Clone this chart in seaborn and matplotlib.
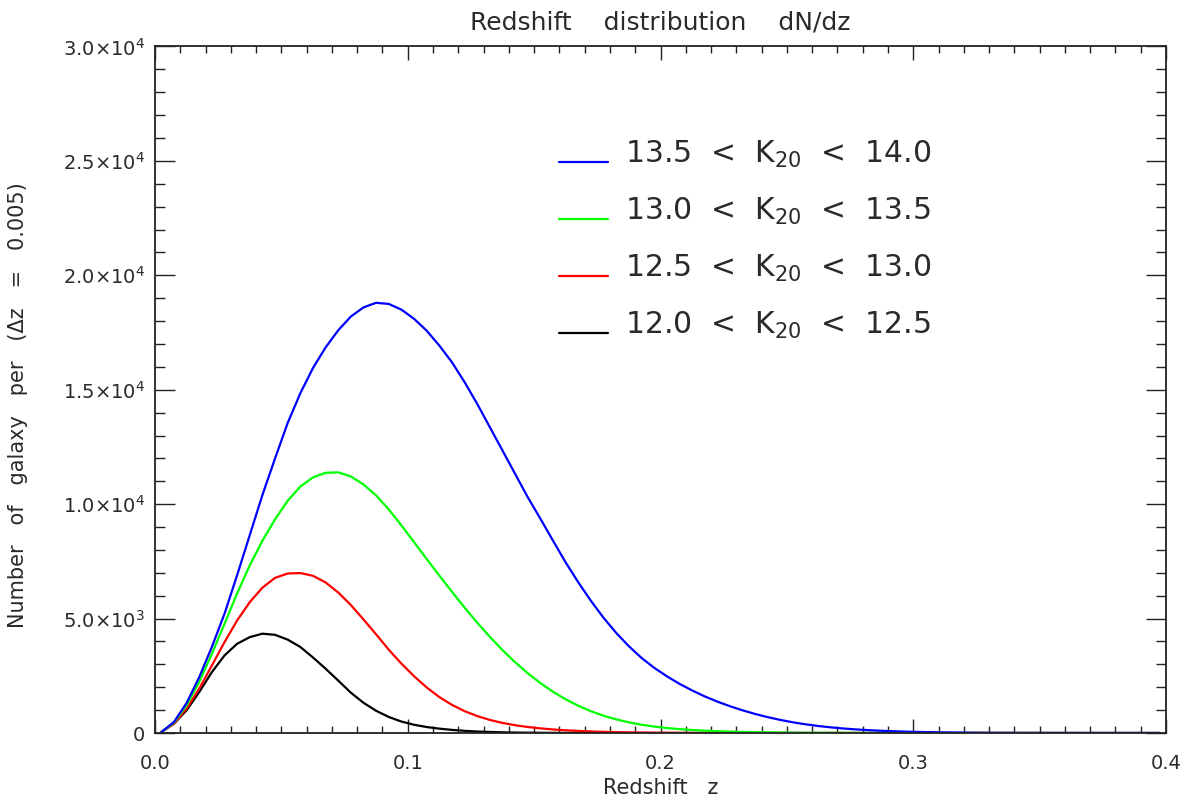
import numpy as np
import pandas as pd
import matplotlib
matplotlib.use("Agg")
import matplotlib.pyplot as plt
import seaborn as sns
from matplotlib.ticker import MultipleLocator, FixedLocator, FixedFormatter
from matplotlib.legend_handler import HandlerLine2D

# ---------------- data ----------------
z = [0.0025, 0.0075, 0.0125, 0.0175, 0.0225, 0.0275, 0.0325, 0.0375, 0.0425, 0.0475,
     0.0525, 0.0575, 0.0625, 0.0675, 0.0725, 0.0775, 0.0825, 0.0875, 0.0925, 0.0975,
     0.1025, 0.1075, 0.1125, 0.1175, 0.1225, 0.1275, 0.1325, 0.1375, 0.1425, 0.1475,
     0.1525, 0.1575, 0.1625, 0.1675, 0.1725, 0.1775, 0.1825, 0.1875, 0.1925, 0.1975,
     0.2025, 0.2075, 0.2125, 0.2175, 0.2225, 0.2275, 0.2325, 0.2375, 0.2425, 0.2475,
     0.2525, 0.2575, 0.2625, 0.2675, 0.2725, 0.2775, 0.2825, 0.2875, 0.2925, 0.2975,
     0.3025, 0.3075, 0.3125, 0.3175, 0.3225, 0.3275, 0.3325, 0.3375, 0.3425, 0.3475,
     0.3525, 0.3575, 0.3625, 0.3675, 0.3725, 0.3775, 0.3825, 0.3875, 0.3925, 0.3975]

n_135_140 = [40, 480, 1310, 2440, 3760, 5210, 6900, 8650, 10400, 12000,
             13550, 14850, 15950, 16850, 17600, 18200, 18600, 18800, 18750, 18500,
             18100, 17580, 16930, 16200, 15330, 14380, 13360, 12340, 11320, 10300,
             9360, 8400, 7450, 6580, 5770, 5030, 4370, 3790, 3280, 2850,
             2480, 2150, 1860, 1600, 1370, 1170, 990, 830, 690, 570,
             465, 378, 305, 245, 196, 156, 123, 96, 75, 58,
             45, 34, 26, 19, 14, 10, 7, 5, 4, 3,
             2, 1, 1, 0, 0, 0, 0, 0, 0, 0]

n_130_135 = [40, 450, 1210, 2230, 3460, 4770, 6100, 7330, 8400, 9340,
             10150, 10770, 11170, 11370, 11390, 11210, 10860, 10380, 9770, 9070,
             8340, 7600, 6880, 6170, 5480, 4820, 4200, 3620, 3090, 2610,
             2180, 1800, 1470, 1190, 950, 755, 595, 465, 362, 281,
             218, 170, 132, 102, 79, 61, 47, 36, 28, 21,
             16, 12, 9, 7, 5, 4, 3, 2, 1, 1,
             0, 0, 0, 0, 0, 0, 0, 0, 0, 0,
             0, 0, 0, 0, 0, 0, 0, 0, 0, 0]

n_125_130 = [40, 410, 1060, 1940, 2950, 3970, 4920, 5720, 6350, 6780,
             6970, 6990, 6870, 6580, 6140, 5590, 4960, 4310, 3640, 3030,
             2480, 1990, 1570, 1230, 955, 740, 570, 440, 340, 262,
             202, 155, 118, 90, 68, 51, 38, 28, 20, 14,
             10, 7, 5, 3, 2, 1, 1, 0, 0, 0,
             0, 0, 0, 0, 0, 0, 0, 0, 0, 0,
             0, 0, 0, 0, 0, 0, 0, 0, 0, 0,
             0, 0, 0, 0, 0, 0, 0, 0, 0, 0]

n_120_125 = [40, 410, 990, 1790, 2660, 3390, 3900, 4190, 4340, 4290,
             4080, 3760, 3300, 2810, 2290, 1760, 1320, 970, 700, 500,
             360, 260, 190, 135, 95, 65, 45, 30, 20, 14,
             9, 6, 4, 3, 2, 1, 0, 0, 0, 0,
             0, 0, 0, 0, 0, 0, 0, 0, 0, 0,
             0, 0, 0, 0, 0, 0, 0, 0, 0, 0,
             0, 0, 0, 0, 0, 0, 0, 0, 0, 0,
             0, 0, 0, 0, 0, 0, 0, 0, 0, 0]

bins = ["12.0-12.5", "12.5-13.0", "13.0-13.5", "13.5-14.0"]
bin_labels = [r"12.0  <  K$\mathregular{_{20}}$  <  12.5",
              r"12.5  <  K$\mathregular{_{20}}$  <  13.0",
              r"13.0  <  K$\mathregular{_{20}}$  <  13.5",
              r"13.5  <  K$\mathregular{_{20}}$  <  14.0"]
bin_colors = ["#000000", "#ff0000", "#00ff00", "#0000ff"]

xtick_values = [0.0, 0.1, 0.2, 0.3, 0.4]
xtick_labels = ["0.0", "0.1", "0.2", "0.3", "0.4"]
ytick_values = [0, 5000, 10000, 15000, 20000, 25000, 30000]
ytick_labels = ["0",
                r"$\mathregular{5.0{\times}10^{3}}$",
                r"$\mathregular{1.0{\times}10^{4}}$",
                r"$\mathregular{1.5{\times}10^{4}}$",
                r"$\mathregular{2.0{\times}10^{4}}$",
                r"$\mathregular{2.5{\times}10^{4}}$",
                r"$\mathregular{3.0{\times}10^{4}}$"]

title = "Redshift    distribution    dN/dz"
xlabel = "Redshift   z"
ylabel = "Number   of   galaxy   per   (Δz   =   0.005)"

# ---------------- build frame ----------------
series = [n_120_125, n_125_130, n_130_135, n_135_140]
df = pd.concat([pd.DataFrame({"z": z, "N": s, "bin": b}) for s, b in zip(series, bins)],
               ignore_index=True)

# ---------------- style ----------------
sns.set_theme(style="white")
plt.rcParams["font.family"] = ["DejaVu Sans"]
plt.rcParams["mathtext.fontset"] = "dejavusans"
TXT = "#2a2a2a"
plt.rcParams["text.color"] = TXT
plt.rcParams["axes.labelcolor"] = TXT
plt.rcParams["xtick.color"] = TXT
plt.rcParams["ytick.color"] = TXT

fig = plt.figure(figsize=(11.97, 8.05), dpi=100)
fig.patch.set_facecolor("white")
ax = fig.add_axes([155 / 1197, 72 / 805, 1011 / 1197, 686.5 / 805])

sns.lineplot(data=df, x="z", y="N", hue="bin", hue_order=bins,
             palette=dict(zip(bins, bin_colors)), linewidth=1.6,
             ax=ax, legend=False, estimator=None)

ax.set_xlim(0, 0.4)
ax.set_ylim(0, 30000)

ax.xaxis.set_major_locator(FixedLocator(xtick_values))
ax.xaxis.set_major_formatter(FixedFormatter(xtick_labels))
ax.xaxis.set_minor_locator(MultipleLocator(0.01))
ax.yaxis.set_major_locator(FixedLocator(ytick_values))
ax.yaxis.set_major_formatter(FixedFormatter(ytick_labels))
ax.yaxis.set_minor_locator(MultipleLocator(1000))

ax.tick_params(which="both", direction="in", top=True, right=True,
               bottom=True, left=True, color="#222222", width=1.0)
ax.tick_params(axis="x", which="major", length=10, pad=15, labelsize=14)
ax.tick_params(axis="x", which="minor", length=5)
ax.tick_params(axis="y", which="major", length=14.4, pad=7, labelsize=14)
ax.tick_params(axis="y", which="minor", length=7.2)

for sp in ax.spines.values():
    sp.set_visible(True)
    sp.set_color("#222222")
    sp.set_linewidth(1.3)

ax.set_title(title, fontsize=18, pad=12)
ax.set_xlabel(xlabel, fontsize=15, labelpad=4)
ax.set_ylabel(ylabel, fontsize=15)
ax.yaxis.set_label_coords(-0.1256, 0.477)


class BaselineLineHandler(HandlerLine2D):
    """Put the legend sample line at the text baseline, as in the original."""
    def create_artists(self, legend, orig_handle, xdescent, ydescent,
                       width, height, fontsize, trans):
        return super().create_artists(legend, orig_handle, xdescent,
                                      ydescent + 0.6 * fontsize, width, height,
                                      fontsize, trans)


lines = ax.get_lines()
order = [3, 2, 1, 0]
leg = ax.legend([lines[k] for k in order], [bin_labels[k] for k in order],
                loc="upper left", bbox_to_anchor=(559 / 1197, 1 - 139 / 805),
                bbox_transform=fig.transFigure, frameon=False, fontsize=21.5,
                handlelength=1.65, handletextpad=0.55, labelspacing=0.87,
                borderpad=0, borderaxespad=0,
                handler_map={l: BaselineLineHandler() for l in lines})

fig.savefig("out.png", dpi=100, facecolor="white")
